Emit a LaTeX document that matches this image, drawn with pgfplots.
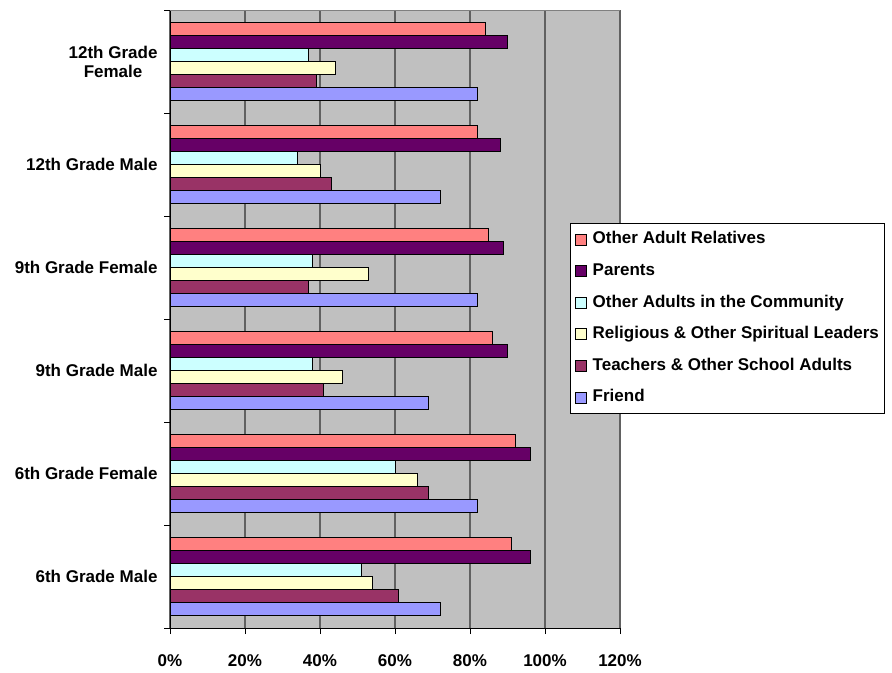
\documentclass[border=0pt]{standalone}
\usepackage{fontspec}
\setmainfont{Liberation Sans}
\usepackage{pgfplots}
\pgfplotsset{compat=1.18}
\definecolor{cRel}{HTML}{FF8080}
\definecolor{cPar}{HTML}{660066}
\definecolor{cCom}{HTML}{CCFFFF}
\definecolor{cReg}{HTML}{FFFFCC}
\definecolor{cTea}{HTML}{993366}
\definecolor{cFri}{HTML}{9999FF}
\definecolor{bg}{HTML}{C0C0C0}
\newcommand{\lf}{\fontsize{17bp}{19bp}\selectfont\bfseries}
\begin{document}
\begin{tikzpicture}
\path[use as bounding box] (0,0) rectangle (892bp,673bp);
\begin{axis}[
  at={(170bp,45bp)}, anchor=south west,
  scale only axis, width=450bp, height=618bp,
  xmin=0, xmax=120, ymin=-0.5, ymax=5.5,
  axis background/.style={fill=bg},
  xbar=0pt, bar width=0.126,
  axis x line*=bottom, axis y line*=left,
  axis line style={black, line width=0.9bp, -},
  xtick={0,20,...,120},
  xticklabels={0\%,20\%,40\%,60\%,80\%,100\%,120\%},
  xmajorgrids, grid style={black!62, line width=1.3bp},
  ytick={0,1,2,3,4,5},
  yticklabels={6th Grade Male,6th Grade Female,9th Grade Male,9th Grade Female,12th Grade Male,{12th Grade\\Female}},
  minor ytick={-0.5,0.5,1.5,2.5,3.5,4.5,5.5},
  major y tick style={draw=none},
  minor y tick style={black, line width=0.9bp},
  major x tick style={black, line width=0.9bp},
  tick align=outside, major tick length=6bp, minor tick length=6bp,
  ticklabel style={font=\lf},
  yticklabel style={align=center, xshift=-3bp},
  xticklabel style={yshift=-17bp},
  legend cell align=left,
  legend style={at={(0.8889,0.6553)}, anchor=north west, draw=black, line width=0.8bp,
    fill=white, font=\lf, inner xsep=5bp, inner ysep=8bp, row sep=15.6bp,
    nodes={inner sep=0pt, text height=12.5bp, text depth=3.5bp},
    /tikz/every odd column/.append style={column sep=6bp}},
  legend image code/.code={\draw[#1, draw=black, line width=0.8bp] (0bp,-5.5bp) rectangle (10.5bp,5.5bp);},
  after end axis/.code={\draw[black!50, line width=0.8bp] (rel axis cs:0,1) -- (rel axis cs:1,1);},
]
\addplot[fill=cRel, draw=black, line width=0.9bp, bar shift=0.315] coordinates {(91,0) (92,1) (86,2) (85,3) (82,4) (84,5)};
\addplot[fill=cPar, draw=black, line width=0.9bp, bar shift=0.189] coordinates {(96,0) (96,1) (90,2) (89,3) (88,4) (90,5)};
\addplot[fill=cCom, draw=black, line width=0.9bp, bar shift=0.063] coordinates {(51,0) (60,1) (38,2) (38,3) (34,4) (37,5)};
\addplot[fill=cReg, draw=black, line width=0.9bp, bar shift=-0.063] coordinates {(54,0) (66,1) (46,2) (53,3) (40,4) (44,5)};
\addplot[fill=cTea, draw=black, line width=0.9bp, bar shift=-0.189] coordinates {(61,0) (69,1) (41,2) (37,3) (43,4) (39,5)};
\addplot[fill=cFri, draw=black, line width=0.9bp, bar shift=-0.315] coordinates {(72,0) (82,1) (69,2) (82,3) (72,4) (82,5)};
\legend{Other Adult Relatives,Parents,Other Adults in the Community,Religious \& Other Spiritual Leaders,Teachers \& Other School Adults,Friend}
\end{axis}
\end{tikzpicture}
\end{document}
